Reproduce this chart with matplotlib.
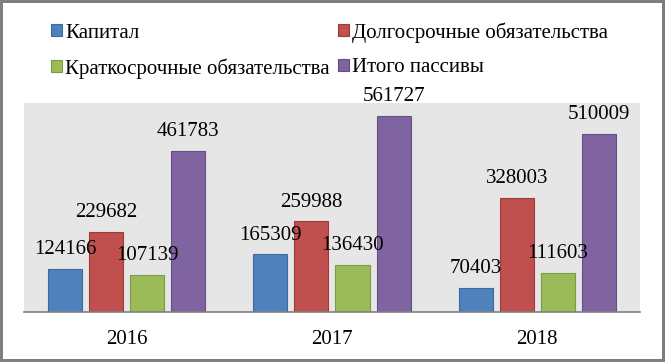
import numpy as np
import matplotlib.pyplot as plt

plt.rcParams['font.family'] = ['Liberation Serif', 'DejaVu Serif']

years = ['2016', '2017', '2018']
series = ['Капитал', 'Долгосрочные обязательства',
          'Краткосрочные обязательства', 'Итого пассивы']
kapital = [124166, 165309, 70403]
dolgo = [229682, 259988, 328003]
kratko = [107139, 136430, 111603]
itogo = [461783, 561727, 510009]
values = [kapital, dolgo, kratko, itogo]
colors = ['#4F81BD', '#C0504D', '#9BBB59', '#8064A2']
edges = ['#3C6A9E', '#9E3B38', '#7E9A46', '#654D85']

fig = plt.figure(figsize=(6.65, 3.62), dpi=100)
fig.patch.set_edgecolor('#7F7F7F')
fig.patch.set_linewidth(3)
ax = fig.add_axes([0.036, 0.138, 0.9264, 0.5775])
ax.set_facecolor('#E6E6E6')

x = np.arange(len(years))
handles = []
for j, (vals, name) in enumerate(zip(values, series)):
    pos = x + (j - 1.5) * 0.2
    b = ax.bar(pos, vals, width=0.166, color=colors[j], edgecolor=edges[j],
               linewidth=0.8, label=name, zorder=2)
    handles.append(b)
    for px, v in zip(pos, vals):
        ax.annotate(str(v), (px, v), xytext=(0, 14), textcoords='offset points',
                    ha='center', va='center', fontsize=15, zorder=3)

ax.set_xlim(-0.5, 2.5)
ax.set_ylim(0, 600000)
ax.set_yticks([])
ax.set_xticks(x)
ax.set_xticklabels(years, fontsize=15)
ax.tick_params(axis='x', length=0, pad=13)
for s in ['top', 'left', 'right']:
    ax.spines[s].set_visible(False)
ax.spines['bottom'].set_color('#808080')
ax.spines['bottom'].set_linewidth(1.2)

# legend filled column by column
order = [0, 2, 1, 3]
fig.legend([handles[i] for i in order], [series[i] for i in order],
           loc='upper left', bbox_to_anchor=(0.0767, 0.939), ncol=2,
           frameon=False, fontsize=15, handlelength=0.53, handleheight=0.53,
           handletextpad=0.15, columnspacing=0.4, labelspacing=0.75,
           borderpad=0, borderaxespad=0)

fig.savefig('out.png', dpi=100)
